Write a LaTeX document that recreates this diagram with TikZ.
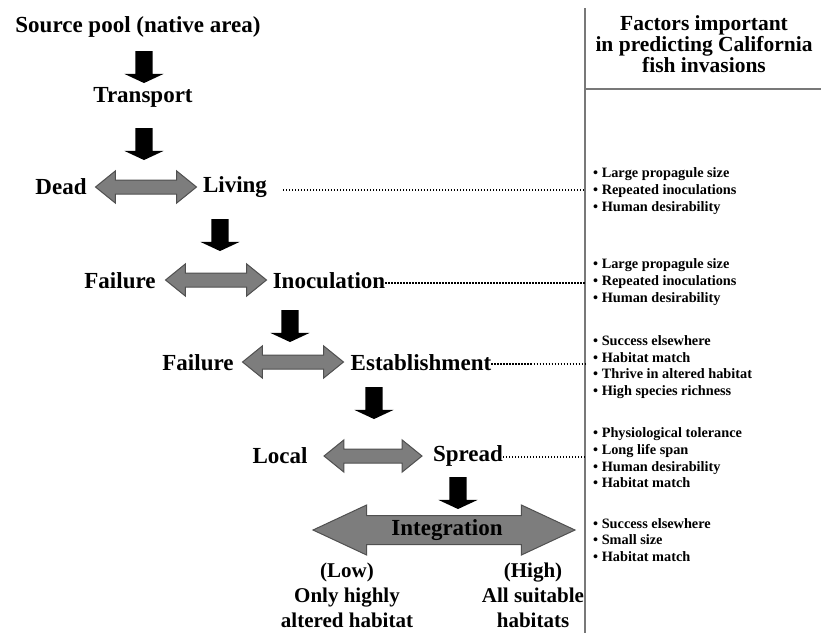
\documentclass[tikz,border=0pt]{standalone}
\usepackage{fontspec}
\setmainfont{Liberation Serif}
\usetikzlibrary{shapes.arrows, positioning}
\definecolor{arrowgray}{RGB}{125,125,125}
\definecolor{edgegray}{RGB}{80,80,80}
\definecolor{rulegray}{RGB}{120,120,120}
\tikzset{%
	stage/.style = {
		font=\fontsize{23}{26}\selectfont\bfseries,
		inner sep=0pt
	},
	level/.style = {
		font=\fontsize{21}{25}\selectfont\bfseries,
		align=center, inner sep=0pt
	},
	factors/.style = {
		font=\fontsize{14.3}{16.7}\selectfont\bfseries,
		align=left, anchor=west, inner sep=0pt
	},
	heading/.style = {
		font=\fontsize{21.5}{19.5}\selectfont\bfseries,
		align=center, inner sep=0pt
	},
	downarrow/.style = {
		single arrow, shape border rotate=270, fill=black,
		inner sep=8.5pt, minimum width=0pt, minimum height=32pt,
		single arrow head extend=11pt, single arrow tip angle=130
	},
	twoway/.style = {
		double arrow, fill=arrowgray, draw=edgegray, line width=1pt,
		inner sep=6.5pt, minimum width=0pt, minimum height=101pt,
		double arrow head extend=9pt, double arrow tip angle=78
	},
	factorlink/.style = {line width=1.2pt, dash pattern=on 1.2pt off 1.8pt},
	divider/.style = {draw=rulegray, line width=1.5pt}
}

\begin{document}
\begin{tikzpicture}[x=1pt, y=-1pt]
    \useasboundingbox (0,0) rectangle (821,633);
    % stages of the invasion
    \node (source)     [stage]                     at (138,27)  {Source pool (native area)};
    \node (a1)         [downarrow]                 at (144,65)  {};
    \node (transport)  [stage]                     at (143,97)  {Transport};
    \node (a2)         [downarrow]                 at (144,142) {};
    \node (dead)       [stage]                     at (61,187)  {Dead};
    \node (b1)         [twoway]                    at (146,187) {};
    \node (living)     [stage]                     at (235,187) {Living};
    \node (a3)         [downarrow]                 at (220,233) {};
    \node (failA)      [stage]                     at (120,281) {Failure};
    \node (b2)         [twoway]                    at (216,280) {};
    \node (inoc)       [stage]                     at (329,281) {Inoculation};
    \node (a4)         [downarrow]                 at (290,324) {};
    \node (failB)      [stage]                     at (198,363) {Failure};
    \node (b3)         [twoway]                    at (293,362) {};
    \node (estab)      [stage]                     at (421,363) {Establishment};
    \node (a5)         [downarrow]                 at (374,401) {};
    \node (local)      [stage]                     at (280,456) {Local};
    \node (b4)         [twoway, minimum height=98pt] at (373,456) {};
    \node (spread)     [stage]                     at (468,456) {Spread};
    \node (a6)         [downarrow]                 at (458,491) {};
    \node (b5)         [twoway, inner sep=14pt, minimum height=262pt,
                        double arrow head extend=10.5pt, double arrow tip angle=50] at (444,530) {};
    \node (integ)      [stage]                     at (447,530) {Integration};
    \node (low)        [level]                     at (347,595) {(Low)\\Only highly\\altered habitat};
    \node (high)       [level]                     at (533,595) {(High)\\All suitable\\habitats};

    % factor column
    \coordinate (ruletop) at (585,8);
    \coordinate (rulebot) at (585,633);
    \draw[divider] (ruletop) -- (rulebot);
    \draw[divider] (ruletop |- 0,89) -- (821,89);
    \node (head)       [heading]                   at (704,44)  {Factors important\\in predicting California\\fish invasions};
    \node (f1) [factors] at (593,191) {• Large propagule size\\• Repeated inoculations\\• Human desirability};
    \node (f2) [factors] at (593,282) {• Large propagule size\\• Repeated inoculations\\• Human desirability};
    \node (f3) [factors] at (593,367) {• Success elsewhere\\• Habitat match\\• Thrive in altered habitat\\• High species richness};
    \node (f4) [factors] at (593,458) {• Physiological tolerance\\• Long life span\\• Human desirability\\• Habitat match};
    \node (f5) [factors] at (593,540) {• Success elsewhere\\• Small size\\• Habitat match};

    \draw[factorlink] ([xshift=16pt, yshift=-3pt]living.east) -- ([yshift=-3pt]living.east -| ruletop);
    \draw[factorlink] ([yshift=-2pt]inoc.east) -- ([yshift=-2pt]inoc.east -| ruletop);
    \draw[factorlink] ([yshift=-1pt]estab.east) -- ([yshift=-1pt]estab.east -| ruletop);
    \draw[factorlink] ([yshift=-1pt]spread.east) -- ([yshift=-1pt]spread.east -| ruletop);
\end{tikzpicture}
\end{document}
